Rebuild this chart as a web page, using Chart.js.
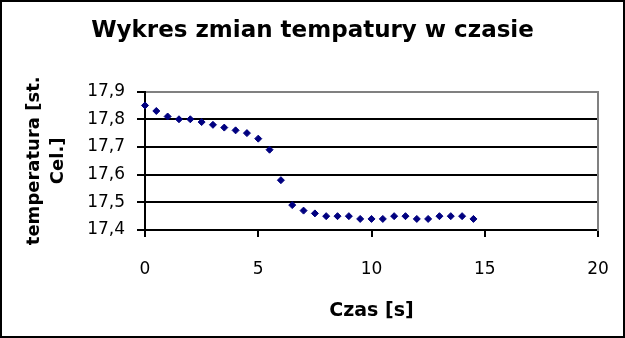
<!DOCTYPE html>
<html>
<head>
<meta charset="utf-8">
<script src="https://cdn.jsdelivr.net/npm/chart.js@4"></script>
<style>
  html, body { margin: 0; padding: 0; background: #fff; }
  canvas { display: block; }
</style>
</head>
<body>
<canvas id="chart" width="625" height="338"></canvas>
<script>
// measurement times [s]
const czas = [0, 0.5, 1, 1.5, 2, 2.5, 3, 3.5, 4, 4.5, 5, 5.5, 6, 6.5, 7, 7.5,
  8, 8.5, 9, 9.5, 10, 10.5, 11, 11.5, 12, 12.5, 13, 13.5, 14, 14.5];
// temperature
const temperatura = [17.85, 17.83, 17.81, 17.80, 17.80, 17.79, 17.78, 17.77, 17.76, 17.75,
  17.73, 17.69, 17.58, 17.49, 17.47, 17.46, 17.45, 17.45, 17.45, 17.44,
  17.44, 17.44, 17.45, 17.45, 17.44, 17.44, 17.45, 17.45, 17.45, 17.44];
const xTicks = [0, 5, 10, 15, 20];
const yTicks = [17.4, 17.5, 17.6, 17.7, 17.8, 17.9];

const punkty = czas.map((t, i) => ({ x: t, y: temperatura[i] }));

// white background + thin black frame round the whole picture
const frame = {
  id: 'frame',
  beforeDraw(chart) {
    const c = chart.ctx;
    c.save();
    c.fillStyle = '#fff';
    c.fillRect(0, 0, chart.width, chart.height);
    c.restore();
  },
  afterDraw(chart) {
    const c = chart.ctx;
    c.save();
    c.strokeStyle = '#000';
    c.lineWidth = 2;
    c.strokeRect(1, 1, chart.width - 2, chart.height - 2);
    c.restore();
  }
};

Chart.defaults.color = '#000';
Chart.defaults.font.family = '"DejaVu Sans", sans-serif';

new Chart(document.getElementById('chart'), {
  type: 'scatter',
  data: {
    datasets: [{
      label: 'temperatura',
      data: punkty,
      pointStyle: 'rectRot',
      pointRadius: 3.5,
      pointBorderWidth: 1,
      backgroundColor: '#000080',
      borderColor: '#000080',
      showLine: false,
      clip: false
    }]
  },
  options: {
    responsive: false,
    animation: false,
    devicePixelRatio: 1,
    layout: { padding: 0 },
    plugins: {
      legend: { display: false },
      tooltip: { enabled: false },
      title: {
        display: true,
        text: 'Wykres zmian tempatury w czasie',
        color: '#000',
        font: { size: 23, weight: 'bold' },
        padding: { top: 17, bottom: 47 }
      }
    },
    scales: {
      x: {
        type: 'linear',
        min: 0,
        max: 20,
        afterBuildTicks: s => { s.ticks = xTicks.map(v => ({ value: v })); },
        afterFit: s => {
          s.height = 108;
          // tick padding would otherwise eat into the right margin
          s.paddingLeft = 0;
          s.paddingRight = 0;
        },
        ticks: { font: { size: 17 }, padding: 22, maxRotation: 0, autoSkip: false },
        grid: {
          drawOnChartArea: false,
          tickLength: 7,
          tickColor: '#000',
          lineWidth: 2
        },
        border: { color: '#000', width: 2 },
        title: {
          display: true,
          text: 'Czas [s]',
          font: { size: 19, weight: 'bold' },
          padding: { top: 0, bottom: 16 }
        }
      },
      y: {
        type: 'linear',
        min: 17.4,
        max: 17.9,
        afterBuildTicks: s => { s.ticks = yTicks.map(v => ({ value: v })); },
        afterFit: s => { s.width = 145; },
        ticks: {
          font: { size: 17 },
          padding: 12,
          callback: v => v.toFixed(1).replace('.', ',')
        },
        grid: {
          color: c => (c.tick && c.tick.value === 17.9 ? '#808080' : '#000'),
          tickColor: '#000',
          tickLength: 8,
          lineWidth: 2
        },
        border: { color: '#000', width: 2 },
        title: {
          display: true,
          text: ['temperatura [st.', 'Cel.]'],
          font: { size: 18, weight: 'bold', lineHeight: 1.33 },
          padding: { top: 22, bottom: 0 }
        }
      },
      prawa: {
        type: 'linear',
        position: 'right',
        min: 17.4,
        max: 17.9,
        afterFit: s => { s.width = 27; },
        ticks: { display: false },
        grid: { display: false, drawTicks: false },
        border: { color: '#808080', width: 2 }
      }
    }
  },
  plugins: [frame]
});
</script>
</body>
</html>
